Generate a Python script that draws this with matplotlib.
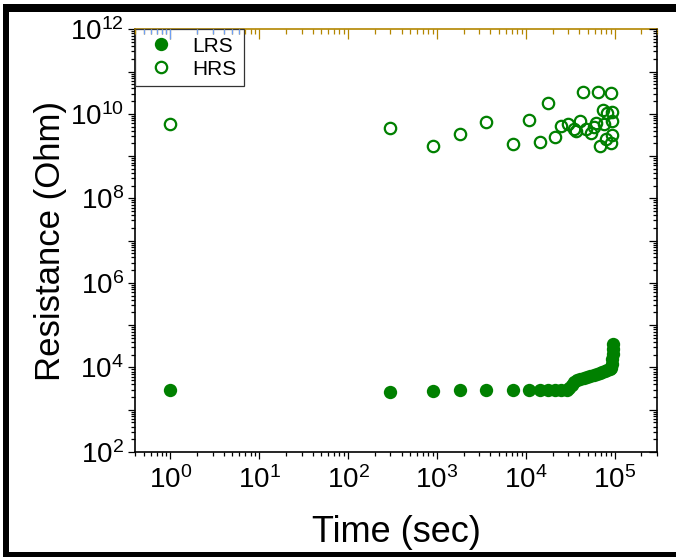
import math
import matplotlib
matplotlib.use("Agg")
import matplotlib.pyplot as plt
from matplotlib.ticker import LogLocator, FuncFormatter, NullFormatter, FixedLocator
from matplotlib.patches import Rectangle

plt.rcParams['font.family'] = ['Liberation Sans', 'DejaVu Sans']
plt.rcParams['mathtext.fontset'] = 'custom'
plt.rcParams['mathtext.rm'] = 'Liberation Sans'
plt.rcParams['mathtext.it'] = 'Liberation Sans:italic'
plt.rcParams['mathtext.bf'] = 'Liberation Sans:bold'

# Retention data: low / high resistance state vs. time
lrs_time = [1, 300, 900, 1800, 3600, 7200, 1.08e4, 1.44e4, 1.8e4, 2.16e4, 2.52e4,
            2.88e4, 3.1e4, 3.3e4, 3.5e4, 3.8e4, 4.1e4, 4.5e4, 4.9e4, 5.3e4, 5.8e4,
            6.3e4, 6.8e4, 7.3e4, 7.8e4, 8.3e4, 8.8e4, 9.2e4, 9.4e4, 9.45e4, 9.5e4,
            9.55e4, 9.6e4]
lrs_res = [2.9e3, 2.6e3, 2.8e3, 2.9e3, 2.9e3, 2.9e3, 2.9e3, 2.9e3, 2.9e3, 2.9e3, 2.9e3,
           2.9e3, 3.3e3, 3.9e3, 4.5e3, 5.0e3, 5.3e3, 5.6e3, 5.9e3, 6.2e3, 6.6e3,
           7.0e3, 7.4e3, 7.8e3, 8.2e3, 8.7e3, 9.2e3, 9.8e3, 1.2e4, 1.6e4, 2.1e4,
           2.8e4, 3.6e4]

hrs_time = [1, 300, 900, 1800, 3600, 7200, 1.08e4, 1.44e4, 1.8e4, 2.16e4, 2.52e4,
            2.98e4, 3.45e4, 3.63e4, 4.03e4, 4.4e4, 4.75e4, 5.37e4, 5.85e4, 6.1e4,
            6.49e4, 6.83e4, 7.46e4, 7.57e4, 8.1e4, 8.27e4, 9.0e4, 9.0e4, 9.42e4,
            9.42e4, 9.42e4]
hrs_res = [5.7e9, 4.6e9, 1.76e9, 3.3e9, 6.5e9, 1.94e9, 7.1e9, 2.2e9, 1.8e10, 2.8e9, 5.25e9,
           5.7e9, 4.3e9, 4.0e9, 6.8e9, 3.2e10, 4.4e9, 3.6e9, 5.0e9, 6.0e9,
           3.3e10, 1.74e9, 1.23e10, 5.7e9, 2.6e9, 1.02e10, 3.06e10, 2.0e9, 1.12e10,
           6.9e9, 3.2e9]

x_limits = (0.4, 3e5)
y_limits = (1e2, 1e12)

GREEN = '#008000'
GOLD = '#b38600'
TICK_BLUE = '#6e9ff5'

fig = plt.figure(figsize=(6.76, 5.57), dpi=100)
ax = fig.add_axes([135 / 676, 1 - 452 / 557, (657 - 135) / 676, (452 - 29.3) / 557])
ax.set_xscale('log')
ax.set_yscale('log')
ax.set_xlim(*x_limits)
ax.set_ylim(*y_limits)

ax.plot(lrs_time, lrs_res, 'o', color=GREEN, ms=9.6, mew=0, label='LRS', zorder=3)
ax.plot(hrs_time, hrs_res, 'o', mfc='none', mec=GREEN, ms=8.2, mew=1.6, label='HRS', zorder=3)

subs = [2, 3, 4, 5, 6, 7, 8, 9]


def decade_label(v, pos):
    e = int(round(math.log10(v)))
    return r'$\mathdefault{10^{%d}}$' % e


def even_decade_label(v, pos):
    e = int(round(math.log10(v)))
    if e % 2:
        return ''
    return r'$\mathdefault{10^{%d}}$' % e


ax.xaxis.set_major_locator(LogLocator(base=10, numticks=20))
ax.xaxis.set_minor_locator(LogLocator(base=10, subs=subs, numticks=20))
ax.xaxis.set_major_formatter(FuncFormatter(decade_label))
ax.xaxis.set_minor_formatter(NullFormatter())
ax.yaxis.set_major_locator(LogLocator(base=10, numticks=20))
ax.yaxis.set_minor_locator(LogLocator(base=10, subs=subs, numticks=20))
ax.yaxis.set_major_formatter(FuncFormatter(even_decade_label))
ax.yaxis.set_minor_formatter(NullFormatter())

ax.tick_params(axis='both', which='both', direction='out', top=False, right=False,
               labelsize=20, width=0.9, color='black')
ax.tick_params(axis='x', which='major', length=5, pad=5.5)
ax.tick_params(axis='x', which='minor', length=2.6)
ax.tick_params(axis='y', which='major', length=5, pad=3)
ax.tick_params(axis='y', which='minor', length=3)
for side in ('left', 'bottom', 'right'):
    ax.spines[side].set_linewidth(1.2)
ax.spines['top'].set_color(GOLD)
ax.spines['top'].set_linewidth(1.2)

ax.set_xlabel('Time (sec)', fontsize=26)
ax.xaxis.set_label_coords(0.5, -0.15)
ax.set_ylabel('Resistance (Ohm)', fontsize=25)
ax.yaxis.set_label_coords(-0.13, 0.5)

leg = ax.legend(loc='upper left', bbox_to_anchor=(0, 1), borderaxespad=0, fontsize=15,
                frameon=True, fancybox=False, edgecolor='#333333', framealpha=1,
                borderpad=0.35, handlelength=1.8, handletextpad=0.6, labelspacing=0.2)
leg.get_frame().set_linewidth(0.9)

# top axis: inward gold ticks, blue where the legend sits
top = ax.twiny()
top.set_xscale('log')
top.set_xlim(*x_limits)
top.xaxis.set_major_locator(LogLocator(base=10, numticks=20))
top.xaxis.set_minor_locator(LogLocator(base=10, subs=subs, numticks=20))
top.xaxis.set_major_formatter(NullFormatter())
top.xaxis.set_minor_formatter(NullFormatter())
top.tick_params(axis='x', which='both', direction='in', top=True, bottom=False,
                labeltop=False, color=GOLD, width=0.9)
top.tick_params(axis='x', which='major', length=7)
top.tick_params(axis='x', which='minor', length=3.5)
for s in top.spines.values():
    s.set_visible(False)

top_blue = ax.twiny()
top_blue.set_xscale('log')
top_blue.set_xlim(*x_limits)
top_blue.xaxis.set_major_locator(FixedLocator([1]))
top_blue.xaxis.set_minor_locator(FixedLocator([0.5, 0.6, 0.7, 0.8, 0.9, 2, 3, 4, 5, 6]))
top_blue.xaxis.set_major_formatter(NullFormatter())
top_blue.xaxis.set_minor_formatter(NullFormatter())
top_blue.tick_params(axis='x', which='both', direction='in', top=True, bottom=False,
                     labeltop=False, color=TICK_BLUE, width=0.9)
top_blue.tick_params(axis='x', which='major', length=7)
top_blue.tick_params(axis='x', which='minor', length=3.5)
for s in top_blue.spines.values():
    s.set_visible(False)

# right axis: inward black ticks
right = ax.twinx()
right.set_yscale('log')
right.set_ylim(*y_limits)
right.yaxis.set_major_locator(LogLocator(base=10, numticks=20))
right.yaxis.set_minor_locator(LogLocator(base=10, subs=subs, numticks=20))
right.yaxis.set_major_formatter(NullFormatter())
right.yaxis.set_minor_formatter(NullFormatter())
right.tick_params(axis='y', which='both', direction='in', right=True, left=False,
                  labelright=False, color='black', width=0.9)
right.tick_params(axis='y', which='major', length=6)
right.tick_params(axis='y', which='minor', length=3)
for s in right.spines.values():
    s.set_visible(False)

# heavy black frame around the figure
W, H = 676, 557
frame_bars = [(3, 0, 6, 553), (3, 545, 673, 8), (3, 0, 673, 5)]
for x0, y0, w, h in frame_bars:
    fig.add_artist(Rectangle((x0 / W, y0 / H), w / W, h / H, transform=fig.transFigure,
                             facecolor='black', edgecolor='none', zorder=10))

fig.savefig('out.png', dpi=100)
